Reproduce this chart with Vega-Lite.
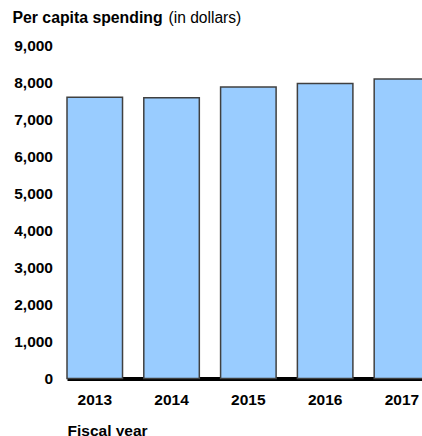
{
  "$schema": "https://vega.github.io/schema/vega-lite/v6.json",
  "width": 355,
  "height": 333.5,
  "autosize": {"type": "none"},
  "padding": {"left": 67, "top": 45, "right": 0, "bottom": 57.5},
  "data": {
    "values": [
      {"year": "2013", "spending": 7590},
      {"year": "2014", "spending": 7575},
      {"year": "2015", "spending": 7866},
      {"year": "2016", "spending": 7962},
      {"year": "2017", "spending": 8082}
    ]
  },
  "encoding": {
    "x": {
      "field": "year",
      "type": "ordinal",
      "scale": {"range": [0, 362.7], "paddingInner": 0.277, "paddingOuter": 0},
      "axis": {
        "title": "Fiscal year",
        "titleAnchor": "start",
        "titleAlign": "left",
        "titleX": 0,
        "titleY": 57,
        "titleBaseline": "alphabetic",
        "titleFont": "Liberation Sans",
        "titleFontSize": 15.5,
        "titleFontWeight": "bold",
        "titleColor": "#000000",
        "labelAngle": 0,
        "labelFont": "Liberation Sans",
        "labelFontSize": 15.5,
        "labelFontWeight": "bold",
        "labelColor": "#000000",
        "labelPadding": 14,
        "labelBaseline": "top",
        "ticks": false,
        "domainColor": "#000000",
        "domainWidth": 4,
        "grid": false
      }
    }
  },
  "layer": [
    {
      "mark": {"type": "bar", "fill": "#99ccff", "stroke": "#404040", "strokeWidth": 1.5},
      "encoding": {
        "y": {
          "field": "spending",
          "type": "quantitative",
          "scale": {"domain": [0, 9000], "nice": false},
          "axis": {
            "orient": "left",
            "title": "Per capita spending",
            "titleAngle": 0,
            "titleAlign": "left",
            "titleX": -55,
            "titleY": -22.3,
            "titleBaseline": "alphabetic",
            "titleFont": "Liberation Sans",
            "titleFontSize": 15.8,
            "titleFontWeight": "bold",
            "titleColor": "#000000",
            "values": [0, 1000, 2000, 3000, 4000, 5000, 6000, 7000, 8000, 9000],
            "format": ",.0f",
            "labelFont": "Liberation Sans",
            "labelFontSize": 15.5,
            "labelFontWeight": "bold",
            "labelColor": "#000000",
            "labelAlign": "right",
            "labelBaseline": "middle",
            "labelPadding": 14.5,
            "labelOverlap": false,
            "ticks": false,
            "domain": false,
            "grid": false
          }
        }
      }
    },
    {
      "mark": {"type": "bar", "fillOpacity": 0, "strokeOpacity": 0},
      "encoding": {
        "y": {
          "field": "spending",
          "type": "quantitative",
          "axis": {
            "orient": "right",
            "title": "(in dollars)",
            "titleAngle": 0,
            "titleAlign": "left",
            "titleX": -254,
            "titleY": -22.3,
            "titleBaseline": "alphabetic",
            "titleFont": "Liberation Sans",
            "titleFontSize": 15.6,
            "titleFontWeight": "normal",
            "titleColor": "#000000",
            "labels": false,
            "ticks": false,
            "domain": false,
            "grid": false
          }
        }
      }
    }
  ],
  "resolve": {"axis": {"y": "independent"}},
  "config": {"view": {"stroke": null}, "font": "Liberation Sans"}
}
